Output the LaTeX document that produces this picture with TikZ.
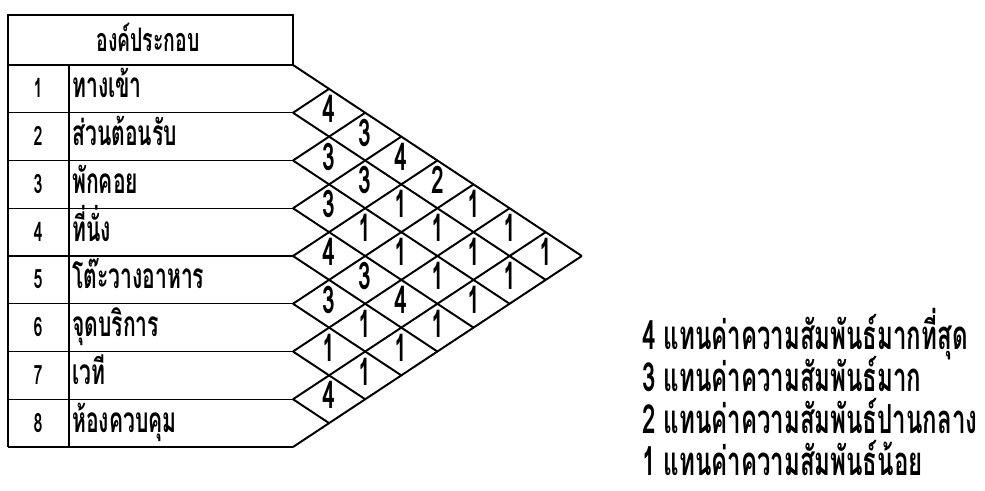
\documentclass[tikz,border=0pt]{standalone}
\usepackage{fontspec}
\newfontfamily\thaifont[Script=Thai,FakeStretch=0.6]{Loma}
\usetikzlibrary{positioning}

\begin{document}
\begin{tikzpicture}[x=0.025cm,y=-0.025cm,
    grid/.style={line width=1.4pt},
    tbl/.style={line width=1pt},
    item/.style={font=\thaifont\bfseries\fontsize{25}{28}\selectfont,inner sep=0pt,anchor=base west},
    idx/.style={font=\thaifont\bfseries\fontsize{19}{22}\selectfont,inner sep=0pt,anchor=base},
    val/.style={font=\thaifont\bfseries\fontsize{27}{30}\selectfont,inner sep=0pt},
    key/.style={font=\thaifont\bfseries\fontsize{28.5}{31}\selectfont,inner sep=0pt,anchor=base west}]
  \useasboundingbox (0,0) rectangle (985,491);
  \def\h{47.75}\def\w{36.1}
  % table of elements
  \draw[tbl] (8,15) rectangle (293,65);
  \node[item,anchor=base,font=\thaifont\bfseries\fontsize{23}{26}\selectfont] (hdr) at (148,52) {องค์ประกอบ};
  \draw[tbl] (8,65) -- (8,447);
  \draw[tbl] (69,65) -- (69,447);
  \foreach \n/\t in {1/ทางเข้า,2/ส่วนต้อนรับ,3/พักคอย,4/ที่นั่ง,
      5/โต๊ะวางอาหาร,6/จุดบริการ,7/เวที,8/ห้องควบคุม}{
    \draw[tbl] (8,65+\n*\h) -- (293,65+\n*\h);
    \node[idx] (n\n) at (38,65+\n*\h-15) {\n};
    \node[item] (r\n) at (72,65+\n*\h-15) {\t};
  }
  % relation grid
  \foreach \k in {0,...,8}{
    \draw[grid] (293,65+\k*\h) -- ++({(8-\k)*\w},{(8-\k)*\h/2});
    \draw[grid] (293,65+\k*\h) -- ++({\k*\w},{-\k*\h/2});
  }
  \foreach \i/\j/\v in {1/2/4,2/3/3,3/4/3,4/5/4,5/6/3,6/7/1,7/8/4,
      1/3/3,2/4/3,3/5/1,4/6/3,5/7/1,6/8/1,
      1/4/4,2/5/1,3/6/1,4/7/4,5/8/1,
      1/5/2,2/6/1,3/7/1,4/8/1,
      1/6/1,2/7/1,3/8/1,
      1/7/1,2/8/1,
      1/8/1}
    \node[val] (v\i\j) at ({293+(\j-\i)*\w},{65+(\i+\j-1)*\h/2-4}) {\v};
  % legend
  \node[key] (key4) at (642,349) {4 แทนค่าความสัมพันธ์มากที่สุด};
  \node[key] (key3) at (642,391) {3 แทนค่าความสัมพันธ์มาก};
  \node[key] (key2) at (642,433) {2 แทนค่าความสัมพันธ์ปานกลาง};
  \node[key] (key1) at (642,475) {1 แทนค่าความสัมพันธ์น้อย};
\end{tikzpicture}
\end{document}
